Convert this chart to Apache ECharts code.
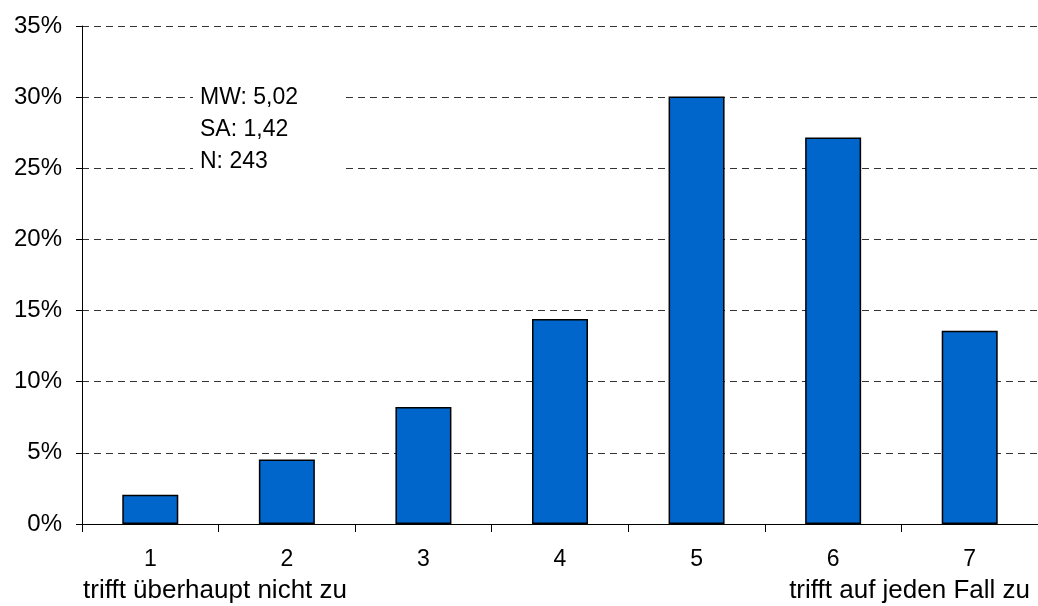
<!DOCTYPE html>
<html>
<head>
<meta charset="utf-8">
<script src="https://cdn.jsdelivr.net/npm/echarts@6/dist/echarts.min.js"></script>
<style>html,body{margin:0;padding:0;background:#fff}#c{width:1038px;height:606px}</style>
</head>
<body>
<div id="c"></div>
<script>
const categories = ['1','2','3','4','5','6','7'];
const values = [2.06, 4.53, 8.23, 14.40, 30.04, 27.16, 13.58];
const statsLines = ['MW: 5,02', 'SA: 1,42', 'N: 243'];
const leftEndLabel = 'trifft überhaupt nicht zu';
const rightEndLabel = 'trifft auf jeden Fall zu';

const chart = echarts.init(document.getElementById('c'), null, {renderer: 'canvas'});
const font = '"Liberation Sans", Arial, sans-serif';
chart.setOption({
  animation: false,
  backgroundColor: '#fff',
  grid: {left: 82, top: 26, width: 966, height: 498, containLabel: false},
  xAxis: {
    type: 'category',
    data: categories,
    axisLine: {lineStyle: {color: '#000', width: 1}},
    axisTick: {show: true, length: 8, lineStyle: {color: '#000'}},
    axisLabel: {color: '#000', fontSize: 23, fontFamily: font, margin: 24}
  },
  yAxis: {
    type: 'value', min: 0, max: 35, interval: 5,
    axisLine: {show: true, lineStyle: {color: '#000', width: 1}},
    axisTick: {show: true, length: 6, lineStyle: {color: '#000'}},
    axisLabel: {color: '#000', fontSize: 24, fontFamily: font, margin: 20, formatter: '{value}%'},
    splitLine: {show: true, lineStyle: {color: '#333', type: [7, 5], width: 1}}
  },
  series: [{
    type: 'bar',
    data: values,
    barWidth: '41%',
    itemStyle: {color: '#0066CC', borderColor: '#000', borderWidth: 1.5}
  }],
  graphic: [
    {type: 'rect', left: 193, top: 84, shape: {width: 148, height: 94}, style: {fill: '#fff'}, z: 10},
    {type: 'text', left: 200, top: 82, z: 11, style: {text: statsLines.join('\n'), font: '23px ' + font, fill: '#000', lineHeight: 32}},
    {type: 'text', left: 83, top: 578, style: {text: leftEndLabel, font: '26px ' + font, fill: '#000'}},
    {type: 'text', right: 8, top: 578, style: {text: rightEndLabel, font: '26px ' + font, fill: '#000'}}
  ]
});
</script>
</body>
</html>
